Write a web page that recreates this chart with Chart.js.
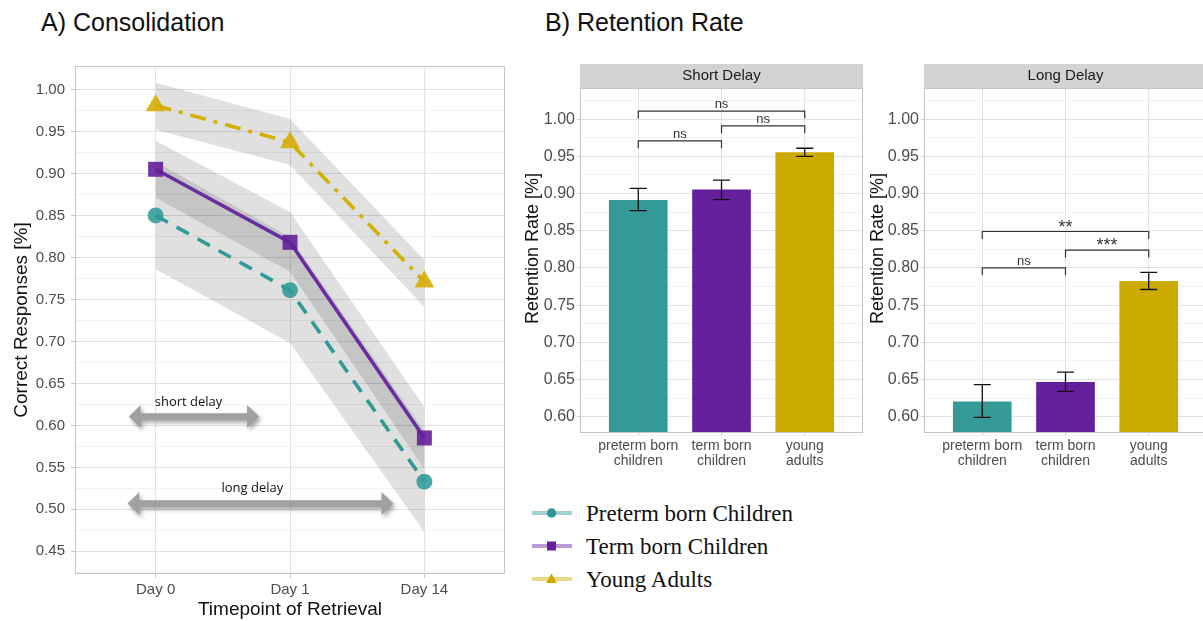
<!DOCTYPE html>
<html><head><meta charset="utf-8">
<script src="https://cdn.jsdelivr.net/npm/chart.js@4/dist/chart.umd.min.js"></script>
<style>
html,body{margin:0;padding:0;background:#fff;overflow:hidden;width:1203px;height:621px;position:relative;}
.abs{position:absolute;}
.ptitle{font-family:"Liberation Sans",Arial,sans-serif;font-size:25px;color:#111;line-height:25px;white-space:nowrap;}
.leg{font-family:"Liberation Serif","Times New Roman",serif;font-size:23px;color:#111;line-height:25px;white-space:nowrap;}
canvas{display:block;}
</style></head><body>
<div class="abs ptitle" style="left:41px;top:10px">A) Consolidation</div>
<div class="abs ptitle" style="left:545px;top:10px">B) Retention Rate</div>

<div class="abs" style="left:0;top:0;width:520px;height:621px"><canvas id="cA" width="520" height="621"></canvas></div>
<div class="abs" style="left:520px;top:0;width:343px;height:480px"><canvas id="cS" width="343" height="480"></canvas></div>
<div class="abs" style="left:863px;top:0;width:344px;height:480px"><canvas id="cL" width="344" height="480"></canvas></div>

<svg class="abs" style="left:532px;top:506px" width="40" height="14"><line x1="0" y1="7" x2="40" y2="7" stroke="rgba(51,154,152,0.45)" stroke-width="4"/><circle cx="19.5" cy="7" r="4.7" fill="#2f9793"/></svg>
<div class="abs leg" style="left:586px;top:501px">Preterm born Children</div>
<svg class="abs" style="left:532px;top:539px" width="40" height="14"><line x1="0" y1="7" x2="40" y2="7" stroke="rgba(100,31,155,0.45)" stroke-width="4"/><rect x="15" y="2.5" width="9" height="9" fill="#64209a"/></svg>
<div class="abs leg" style="left:586px;top:534px">Term born Children</div>
<svg class="abs" style="left:532px;top:572px" width="40" height="14"><line x1="0" y1="7" x2="40" y2="7" stroke="rgba(204,171,0,0.45)" stroke-width="4"/><polygon points="19.5,1.5 25,11 14,11" fill="#cca800"/></svg>
<div class="abs leg" style="left:586px;top:567px">Young Adults</div>

<script>
// ---------------- DATA ----------------
const days = ['Day 0', 'Day 1', 'Day 14'];
const pretermMean = [0.850, 0.761, 0.533];
const pretermLow  = [0.786, 0.698, 0.473];
const pretermHigh = [0.914, 0.824, 0.593];
const termMean    = [0.905, 0.818, 0.585];
const termLow     = [0.871, 0.783, 0.548];
const termHigh    = [0.939, 0.854, 0.622];
const adultMean   = [0.981, 0.937, 0.771];
const adultLow    = [0.952, 0.910, 0.741];
const adultHigh   = [1.008, 0.965, 0.797];
const yTicksA = [0.45, 0.50, 0.55, 0.60, 0.65, 0.70, 0.75, 0.80, 0.85, 0.90, 0.95, 1.00];

const groupLabels = [['preterm born', 'children'], ['term born', 'children'], ['young', 'adults']];
const shortMean = [0.891, 0.905, 0.955];
const shortLow  = [0.877, 0.892, 0.950];
const shortHigh = [0.907, 0.918, 0.961];
const longMean  = [0.620, 0.646, 0.782];
const longLow   = [0.599, 0.634, 0.771];
const longHigh  = [0.643, 0.660, 0.794];
const yTicksB = [0.60, 0.65, 0.70, 0.75, 0.80, 0.85, 0.90, 0.95, 1.00];
const shortSig = [
  {a: 0, b: 1, y: 0.971, label: 'ns'},
  {a: 1, b: 2, y: 0.991, label: 'ns'},
  {a: 0, b: 2, y: 1.011, label: 'ns'}
];
const longSig = [
  {a: 0, b: 1, y: 0.800, label: 'ns'},
  {a: 1, b: 2, y: 0.824, label: '***'},
  {a: 0, b: 2, y: 0.849, label: '**'}
];
// --------------------------------------

Chart.defaults.font.family = '"Liberation Sans", Arial, sans-serif';
Chart.defaults.animation = false;
Chart.defaults.events = [];

const MAJ = '#e2e2e2', MIN = '#f1f1f1';
const isMajor = (v, list) => list.some(t => Math.abs(t - v) < 1e-6);
const withMinor = (list) => {
  const out = [];
  const step = list[1] - list[0];
  out.push(+(list[0] - step / 2).toFixed(4));
  list.forEach(v => { out.push(v); out.push(+(v + step / 2).toFixed(4)); });
  return out;
};
const pts = (arr) => arr.map((v, i) => ({x: i, y: v}));

function boxPlugin(color) {
  return {id: 'box', afterDraw(chart) {
    const a = chart.chartArea, c = chart.ctx;
    c.save(); c.strokeStyle = color; c.lineWidth = 1;
    c.strokeRect(Math.round(a.left) + 0.5, Math.round(a.top) + 0.5,
      Math.round(a.right - a.left) - 1, Math.round(a.bottom - a.top) - 1);
    c.restore();
  }};
}

// ---- Panel A ----
const arrowsA = [
  {from: -0.2, to: 0.77, y: 0.6105, label: 'short delay', lx: 0.245, ly: 0.628},
  {from: -0.21, to: 1.77, y: 0.507, label: 'long delay', lx: 0.72, ly: 0.5245}
];
const arrowPlugin = {id: 'arrows', afterDatasetsDraw(chart) {
  const x = chart.scales.x, y = chart.scales.y, c = chart.ctx;
  arrowsA.forEach(a => {
    const x0 = x.getPixelForValue(a.from), x1 = x.getPixelForValue(a.to), py = y.getPixelForValue(a.y);
    const hl = 12, hh = 11.5, sh = 3.3;
    c.save();
    c.shadowColor = 'rgba(0,0,0,0.35)'; c.shadowBlur = 4; c.shadowOffsetX = 2; c.shadowOffsetY = 3;
    c.fillStyle = '#a0a0a0';
    c.beginPath();
    c.moveTo(x0, py);
    c.lineTo(x0 + hl, py - hh); c.lineTo(x0 + hl, py - sh);
    c.lineTo(x1 - hl, py - sh); c.lineTo(x1 - hl, py - hh);
    c.lineTo(x1, py);
    c.lineTo(x1 - hl, py + hh); c.lineTo(x1 - hl, py + sh);
    c.lineTo(x0 + hl, py + sh); c.lineTo(x0 + hl, py + hh);
    c.closePath(); c.fill();
    c.restore();
    c.save();
    c.fillStyle = '#111'; c.font = '13px "Open Sans", sans-serif';
    c.textAlign = 'center'; c.textBaseline = 'middle';
    c.fillText(a.label, x.getPixelForValue(a.lx), y.getPixelForValue(a.ly));
    c.restore();
  });
}};

const ribbon = (hi, lo) => ([
  {data: pts(hi), borderWidth: 0, pointRadius: 0, fill: '+1', backgroundColor: 'rgba(0,0,0,0.12)'},
  {data: pts(lo), borderWidth: 0, pointRadius: 0, fill: false}
]);

new Chart(document.getElementById('cA'), {
  type: 'line',
  data: {datasets: [
    {data: pts(adultMean), borderColor: '#d4b000', borderWidth: 3.6, borderDash: [16, 8, 4, 8], fill: false,
     pointStyle: 'triangle', pointRadius: 11.5, pointBorderWidth: 0, pointBackgroundColor: 'rgba(212,172,0,0.88)'},
    {data: pts(termMean), borderColor: '#6a2d9f', borderWidth: 3.6, fill: false,
     pointStyle: 'rect', pointRadius: 10.6, pointBorderWidth: 0, pointBackgroundColor: 'rgba(100,31,154,0.9)'},
    {data: pts(pretermMean), borderColor: '#2f9a96', borderWidth: 3.6, borderDash: [14, 10], fill: false,
     pointStyle: 'circle', pointRadius: 8, pointBorderWidth: 0, pointBackgroundColor: 'rgba(47,154,150,0.88)'},
    ...ribbon(pretermHigh, pretermLow),
    ...ribbon(termHigh, termLow),
    ...ribbon(adultHigh, adultLow)
  ]},
  options: {
    responsive: false,
    layout: {padding: {top: 66, right: 15, left: 0, bottom: 0}},
    plugins: {legend: {display: false}, tooltip: {enabled: false}, filler: {drawTime: 'beforeDatasetsDraw'}},
    scales: {
      x: {type: 'linear', min: -0.6, max: 2.6,
        afterBuildTicks: s => { s.ticks = days.map((d, i) => ({value: i})); },
        afterFit: s => { s.height = 47; },
        ticks: {autoSkip: false, callback: v => days[v], color: '#4d4d4d', font: {size: 15}, padding: 3, maxRotation: 0},
        grid: {color: MAJ, tickLength: 4, tickColor: '#c8c8c8'},
        border: {display: false},
        title: {display: true, text: 'Timepoint of Retrieval', color: '#111', font: {size: 19}, padding: {top: 0, bottom: 0}}
      },
      y: {min: 0.423, max: 1.028,
        afterBuildTicks: s => { s.ticks = withMinor(yTicksA).map(v => ({value: v})); },
        afterFit: s => { s.width = 75; },
        ticks: {autoSkip: false, color: '#4d4d4d', font: {size: 15}, padding: 6,
          callback: v => isMajor(v, yTicksA) ? v.toFixed(2) : ''},
        grid: {color: c => (c.tick && isMajor(c.tick.value, yTicksA)) ? MAJ : MIN, tickLength: 4,
          tickColor: c => (c.tick && isMajor(c.tick.value, yTicksA)) ? '#c8c8c8' : 'rgba(0,0,0,0)'},
        border: {display: false},
        title: {display: true, text: 'Correct Responses [%]', color: '#111', font: {size: 19}, padding: {top: 10, bottom: 0}}
      }
    }
  },
  plugins: [arrowPlugin, boxPlugin('#c4c4c4')]
});

// ---- Panel B ----
function errPlugin(lo, hi) {
  return {id: 'err', afterDatasetsDraw(chart) {
    const x = chart.scales.x, y = chart.scales.y, c = chart.ctx;
    c.save(); c.strokeStyle = '#111'; c.lineWidth = 1.3;
    lo.forEach((l, i) => {
      const px = x.getPixelForValue(i), p1 = y.getPixelForValue(l), p2 = y.getPixelForValue(hi[i]);
      c.beginPath();
      c.moveTo(px, p1); c.lineTo(px, p2);
      c.moveTo(px - 8.5, p1); c.lineTo(px + 8.5, p1);
      c.moveTo(px - 8.5, p2); c.lineTo(px + 8.5, p2);
      c.stroke();
    });
    c.restore();
  }};
}
function sigPlugin(list) {
  return {id: 'sig', afterDatasetsDraw(chart) {
    const x = chart.scales.x, y = chart.scales.y, c = chart.ctx;
    c.save(); c.strokeStyle = '#333'; c.lineWidth = 1.2; c.fillStyle = '#333';
    c.textAlign = 'center'; c.textBaseline = 'alphabetic';
    list.forEach(s => {
      const xa = x.getPixelForValue(s.a), xb = x.getPixelForValue(s.b);
      const py = y.getPixelForValue(s.y), pt = y.getPixelForValue(s.y - 0.01);
      c.beginPath(); c.moveTo(xa, pt); c.lineTo(xa, py); c.lineTo(xb, py); c.lineTo(xb, pt); c.stroke();
      const star = s.label.indexOf('*') >= 0;
      c.font = (star ? '18px' : '13px') + ' "Liberation Sans", Arial, sans-serif';
      c.fillText(s.label, (xa + xb) / 2, star ? py + 1 : py - 3);
    });
    c.restore();
  }};
}
function stripPlugin(text, titleX) {
  return {id: 'strip', afterDraw(chart) {
    const a = chart.chartArea, c = chart.ctx;
    c.save();
    c.fillStyle = '#d3d3d3';
    c.fillRect(a.left, a.top - 24, a.right - a.left, 24);
    c.fillStyle = '#1a1a1a'; c.font = '15px "Liberation Sans", Arial, sans-serif';
    c.textAlign = 'center'; c.textBaseline = 'middle';
    c.fillText(text, (a.left + a.right) / 2, a.top - 12);
    c.translate(titleX, (a.top - 24 + a.bottom) / 2);
    c.rotate(-Math.PI / 2);
    c.fillStyle = '#111'; c.font = '18px "Liberation Sans", Arial, sans-serif';
    c.fillText('Retention Rate [%]', 0, 0);
    c.restore();
  }};
}

const barColors = ['#339a98', '#641f9b', '#ccab00'];
function barChart(id, means, lo, hi, sig, stripText, axisW, titleX) {
  new Chart(document.getElementById(id), {
    type: 'bar',
    data: {datasets: [{data: pts(means), backgroundColor: barColors, barThickness: 58, borderWidth: 0}]},
    options: {
      responsive: false,
      layout: {padding: {top: 88, right: 0, left: 0, bottom: 0}},
      plugins: {legend: {display: false}, tooltip: {enabled: false}},
      scales: {
        x: {type: 'linear', min: -0.7, max: 2.7, offset: false,
          afterBuildTicks: s => { s.ticks = groupLabels.map((g, i) => ({value: i})); },
          afterFit: s => { s.height = 47; },
          ticks: {autoSkip: false, callback: v => groupLabels[v], color: '#4d4d4d',
            font: {size: 14, lineHeight: 1.05}, padding: 3, maxRotation: 0},
          grid: {offset: false, color: MAJ, tickLength: 3, tickColor: '#c8c8c8'},
          border: {display: false}
        },
        y: {min: 0.578, max: 1.042,
          afterBuildTicks: s => { s.ticks = withMinor(yTicksB).map(v => ({value: v})); },
          afterFit: s => { s.width = axisW; },
          ticks: {autoSkip: false, color: '#4d4d4d', font: {size: 16}, padding: 2,
            callback: v => isMajor(v, yTicksB) ? v.toFixed(2) : ''},
          grid: {color: c => (c.tick && isMajor(c.tick.value, yTicksB)) ? MAJ : MIN, tickLength: 3,
            tickColor: c => (c.tick && isMajor(c.tick.value, yTicksB)) ? '#c8c8c8' : 'rgba(0,0,0,0)'},
          border: {display: false}
        }
      }
    },
    plugins: [errPlugin(lo, hi), sigPlugin(sig), boxPlugin('#c4c4c4'), stripPlugin(stripText, titleX)]
  });
}
barChart('cS', shortMean, shortLow, shortHigh, shortSig, 'Short Delay', 60, 13);
barChart('cL', longMean, longLow, longHigh, longSig, 'Long Delay', 61, 15);
</script>
</body></html>
